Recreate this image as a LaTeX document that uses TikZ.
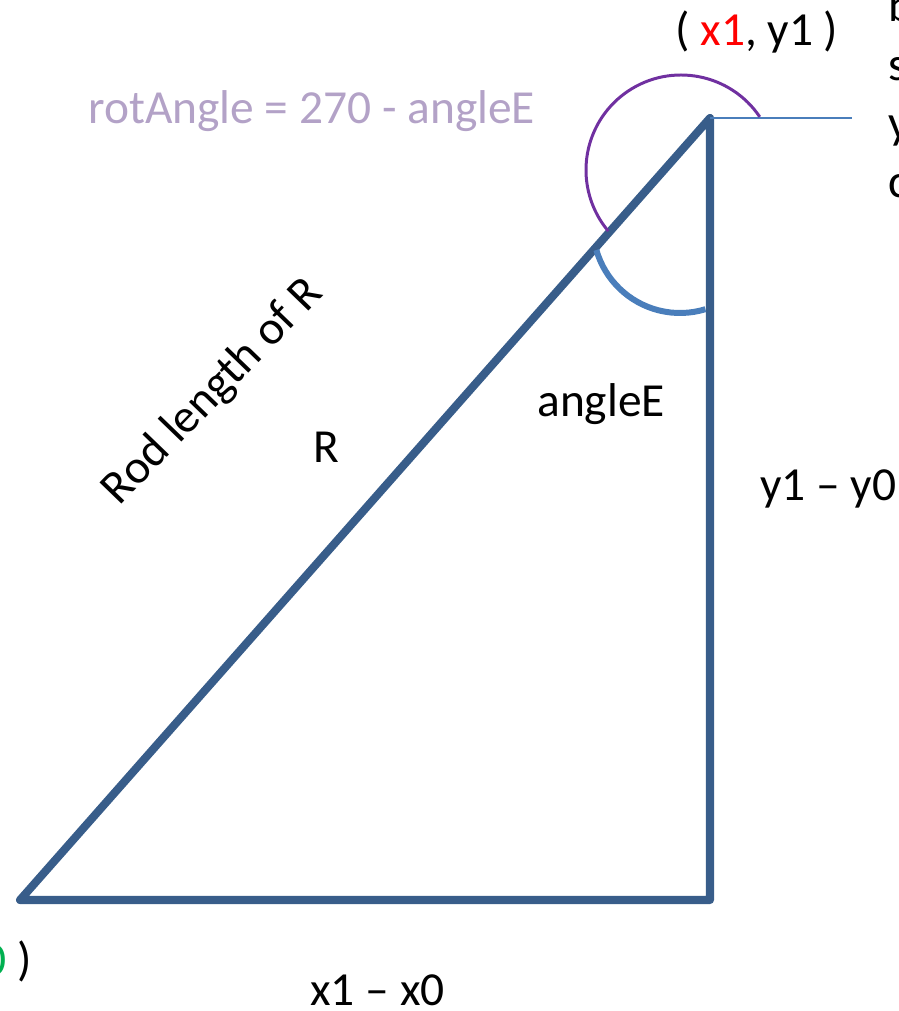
\documentclass[tikz,border=0pt]{standalone}
\usepackage{fontspec}
\setmainfont{Carlito}
\definecolor{rod}{HTML}{385D8A}
\definecolor{lightrod}{HTML}{4A7EBB}
\definecolor{rotpurple}{HTML}{7030A0}
\definecolor{lavender}{HTML}{B3A2C7}
\definecolor{greenlab}{HTML}{00B050}
\tikzset{lab/.style={font=\fontsize{27}{32}\selectfont,inner sep=0pt,anchor=base west}}
\begin{document}
\begin{tikzpicture}[x=0.02cm,y=-0.02cm]
\useasboundingbox (0,0) rectangle (899,1011);
\clip (0,0) rectangle (899,1011);
\coordinate (A) at (20,900);
\coordinate (B) at (710,900);
\coordinate (C) at (710,118);
\coordinate (H) at (852,118);
\draw[rod,line width=4.6pt,line join=round] (A) -- (B) -- (C) -- cycle;
\draw[lightrod,line width=1.1pt] (C) -- (H);
\draw[rotpurple,line width=1.7pt] (681,170) ++(-34:95) arc[start angle=-34,end angle=-220,radius=95];
\draw[lightrod,line width=3.4pt] (680,226) ++(164:87) arc[start angle=164,end angle=73,radius=87];
\node[lab] (xy1) at (675,45) {( \textcolor{red}{x1}, y1 )};
\node[lab,lavender] (rot) at (88,123) {rotAngle = 270 - angleE};
\node[lab,anchor=center,rotate=46] (rodlen) at (213,392) {Rod length of R};
\node[lab] (rlab) at (313,462) {R};
\node[lab] (angE) at (537,416) {angleE};
\node[lab] (dy) at (760,500) {y1 – y0};
\node[lab] (dx) at (310,1005) {x1 – x0};
\node[lab] (xy0) at (-18,975) {\textcolor{greenlab}{0} )};
\foreach \t/\yy in {b/21,s/80,y/138,c/197}
  \node[lab] (side\t) at (888,\yy) {\t};
\end{tikzpicture}
\end{document}
